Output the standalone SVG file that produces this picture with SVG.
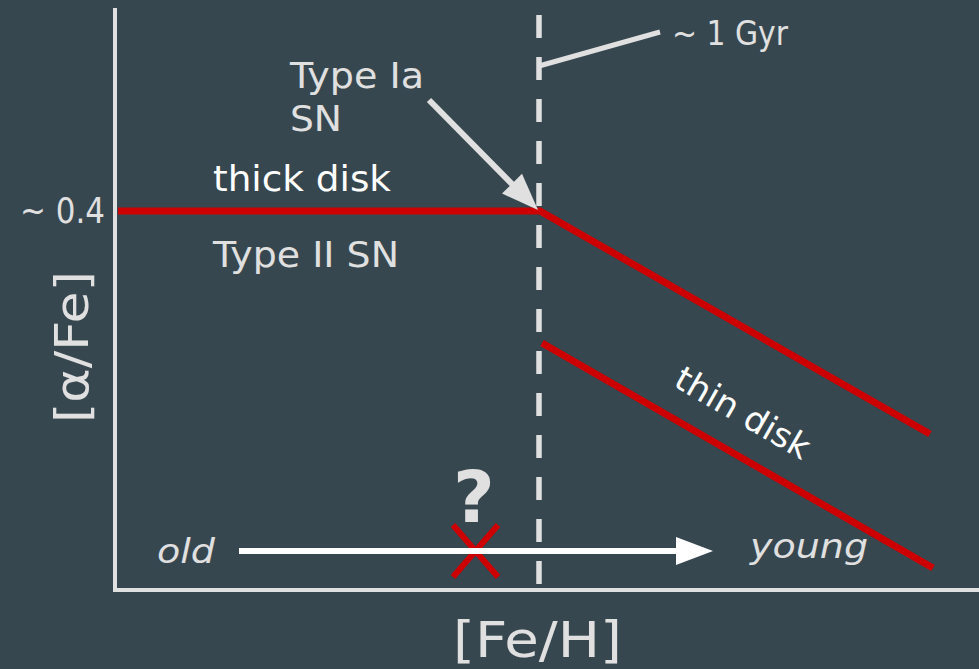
<svg xmlns="http://www.w3.org/2000/svg" width="979" height="669" viewBox="0 0 979 669">
<style>
.t{font-family:"DejaVu Sans","Liberation Sans",sans-serif;fill:#e0e0e0}
.w{fill:#ffffff}
.it{font-style:italic}
.ax{stroke:#e0e0e0;stroke-width:4;fill:none}
.dash{stroke:#e0e0e0;stroke-width:5.5;fill:none;stroke-dasharray:23 19}
.red{stroke:#cc0000;stroke-width:7;fill:none}
.redx{stroke:#cc0000;stroke-width:6;fill:none}
.gl{stroke:#e0e0e0;stroke-width:5;fill:none}
.gl6{stroke:#e0e0e0;stroke-width:6;fill:none}
</style>
<rect width="979" height="669" fill="#37474f"/>
<g id="axes">
<polyline class="ax" points="115,8 115,590 979,590"/>
</g>
<g id="y-label">
<text class="t" font-size="47" transform="translate(88,423) rotate(-90)" textLength="152" lengthAdjust="spacingAndGlyphs">[α/Fe]</text>
</g>
<g id="x-label">
<text class="t" font-size="50" x="453" y="657" textLength="169" lengthAdjust="spacingAndGlyphs">[Fe/H]</text>
</g>
<g id="tick-04">
<text class="t" font-size="35" x="105" y="223" text-anchor="end" textLength="85" lengthAdjust="spacingAndGlyphs">~ 0.4</text>
</g>
<g id="gyr-line">
<line class="dash" x1="539" y1="15" x2="539" y2="585"/>
</g>
<g id="thick-disk">
<polyline class="red" points="118,211 540,211 930,434"/>
<text class="t w" font-size="35" x="213" y="191" textLength="178" lengthAdjust="spacingAndGlyphs">thick disk</text>
</g>
<g id="type-ii">
<text class="t" font-size="35" x="213" y="267" textLength="186" lengthAdjust="spacingAndGlyphs">Type II SN</text>
</g>
<g id="type-ia">
<text class="t" font-size="35" x="290" y="88" textLength="134" lengthAdjust="spacingAndGlyphs">Type Ia</text>
<text class="t" font-size="35" x="290" y="131" textLength="52" lengthAdjust="spacingAndGlyphs">SN</text>
</g>
<g id="gyr">
<text class="t" font-size="34" x="672" y="45" textLength="116" lengthAdjust="spacingAndGlyphs">~ 1 Gyr</text>
</g>
<g id="thin-disk">
<line class="red" x1="542" y1="343" x2="933" y2="568"/>
<text class="t w" font-size="34" text-anchor="middle" transform="translate(737,423) rotate(29.9)" textLength="150" lengthAdjust="spacingAndGlyphs">thin disk</text>
</g>
<g id="unknown">
<line class="redx" x1="453" y1="525" x2="498" y2="577"/>
<line class="redx" x1="498" y1="525" x2="453" y2="577"/>
<text class="t" font-size="72" font-weight="bold" x="474" y="522" text-anchor="middle">?</text>
</g>
<g id="age">
<text class="t it" font-size="34" x="157" y="563" textLength="58" lengthAdjust="spacingAndGlyphs">old</text>
<text class="t it" font-size="34" x="750" y="558" textLength="118" lengthAdjust="spacingAndGlyphs">young</text>
</g>
<g id="connectors">
<line class="gl" x1="539" y1="66" x2="660" y2="32"/>
<line class="gl6" x1="429" y1="100" x2="514" y2="186"/>
<polygon fill="#e0e0e0" points="538,210 502,193.6 522,173.8"/>
<line stroke="#ffffff" stroke-width="6" x1="239" y1="551" x2="680" y2="551"/>
<polygon fill="#ffffff" points="713,551 676,537 676,565"/>
</g>
</svg>
